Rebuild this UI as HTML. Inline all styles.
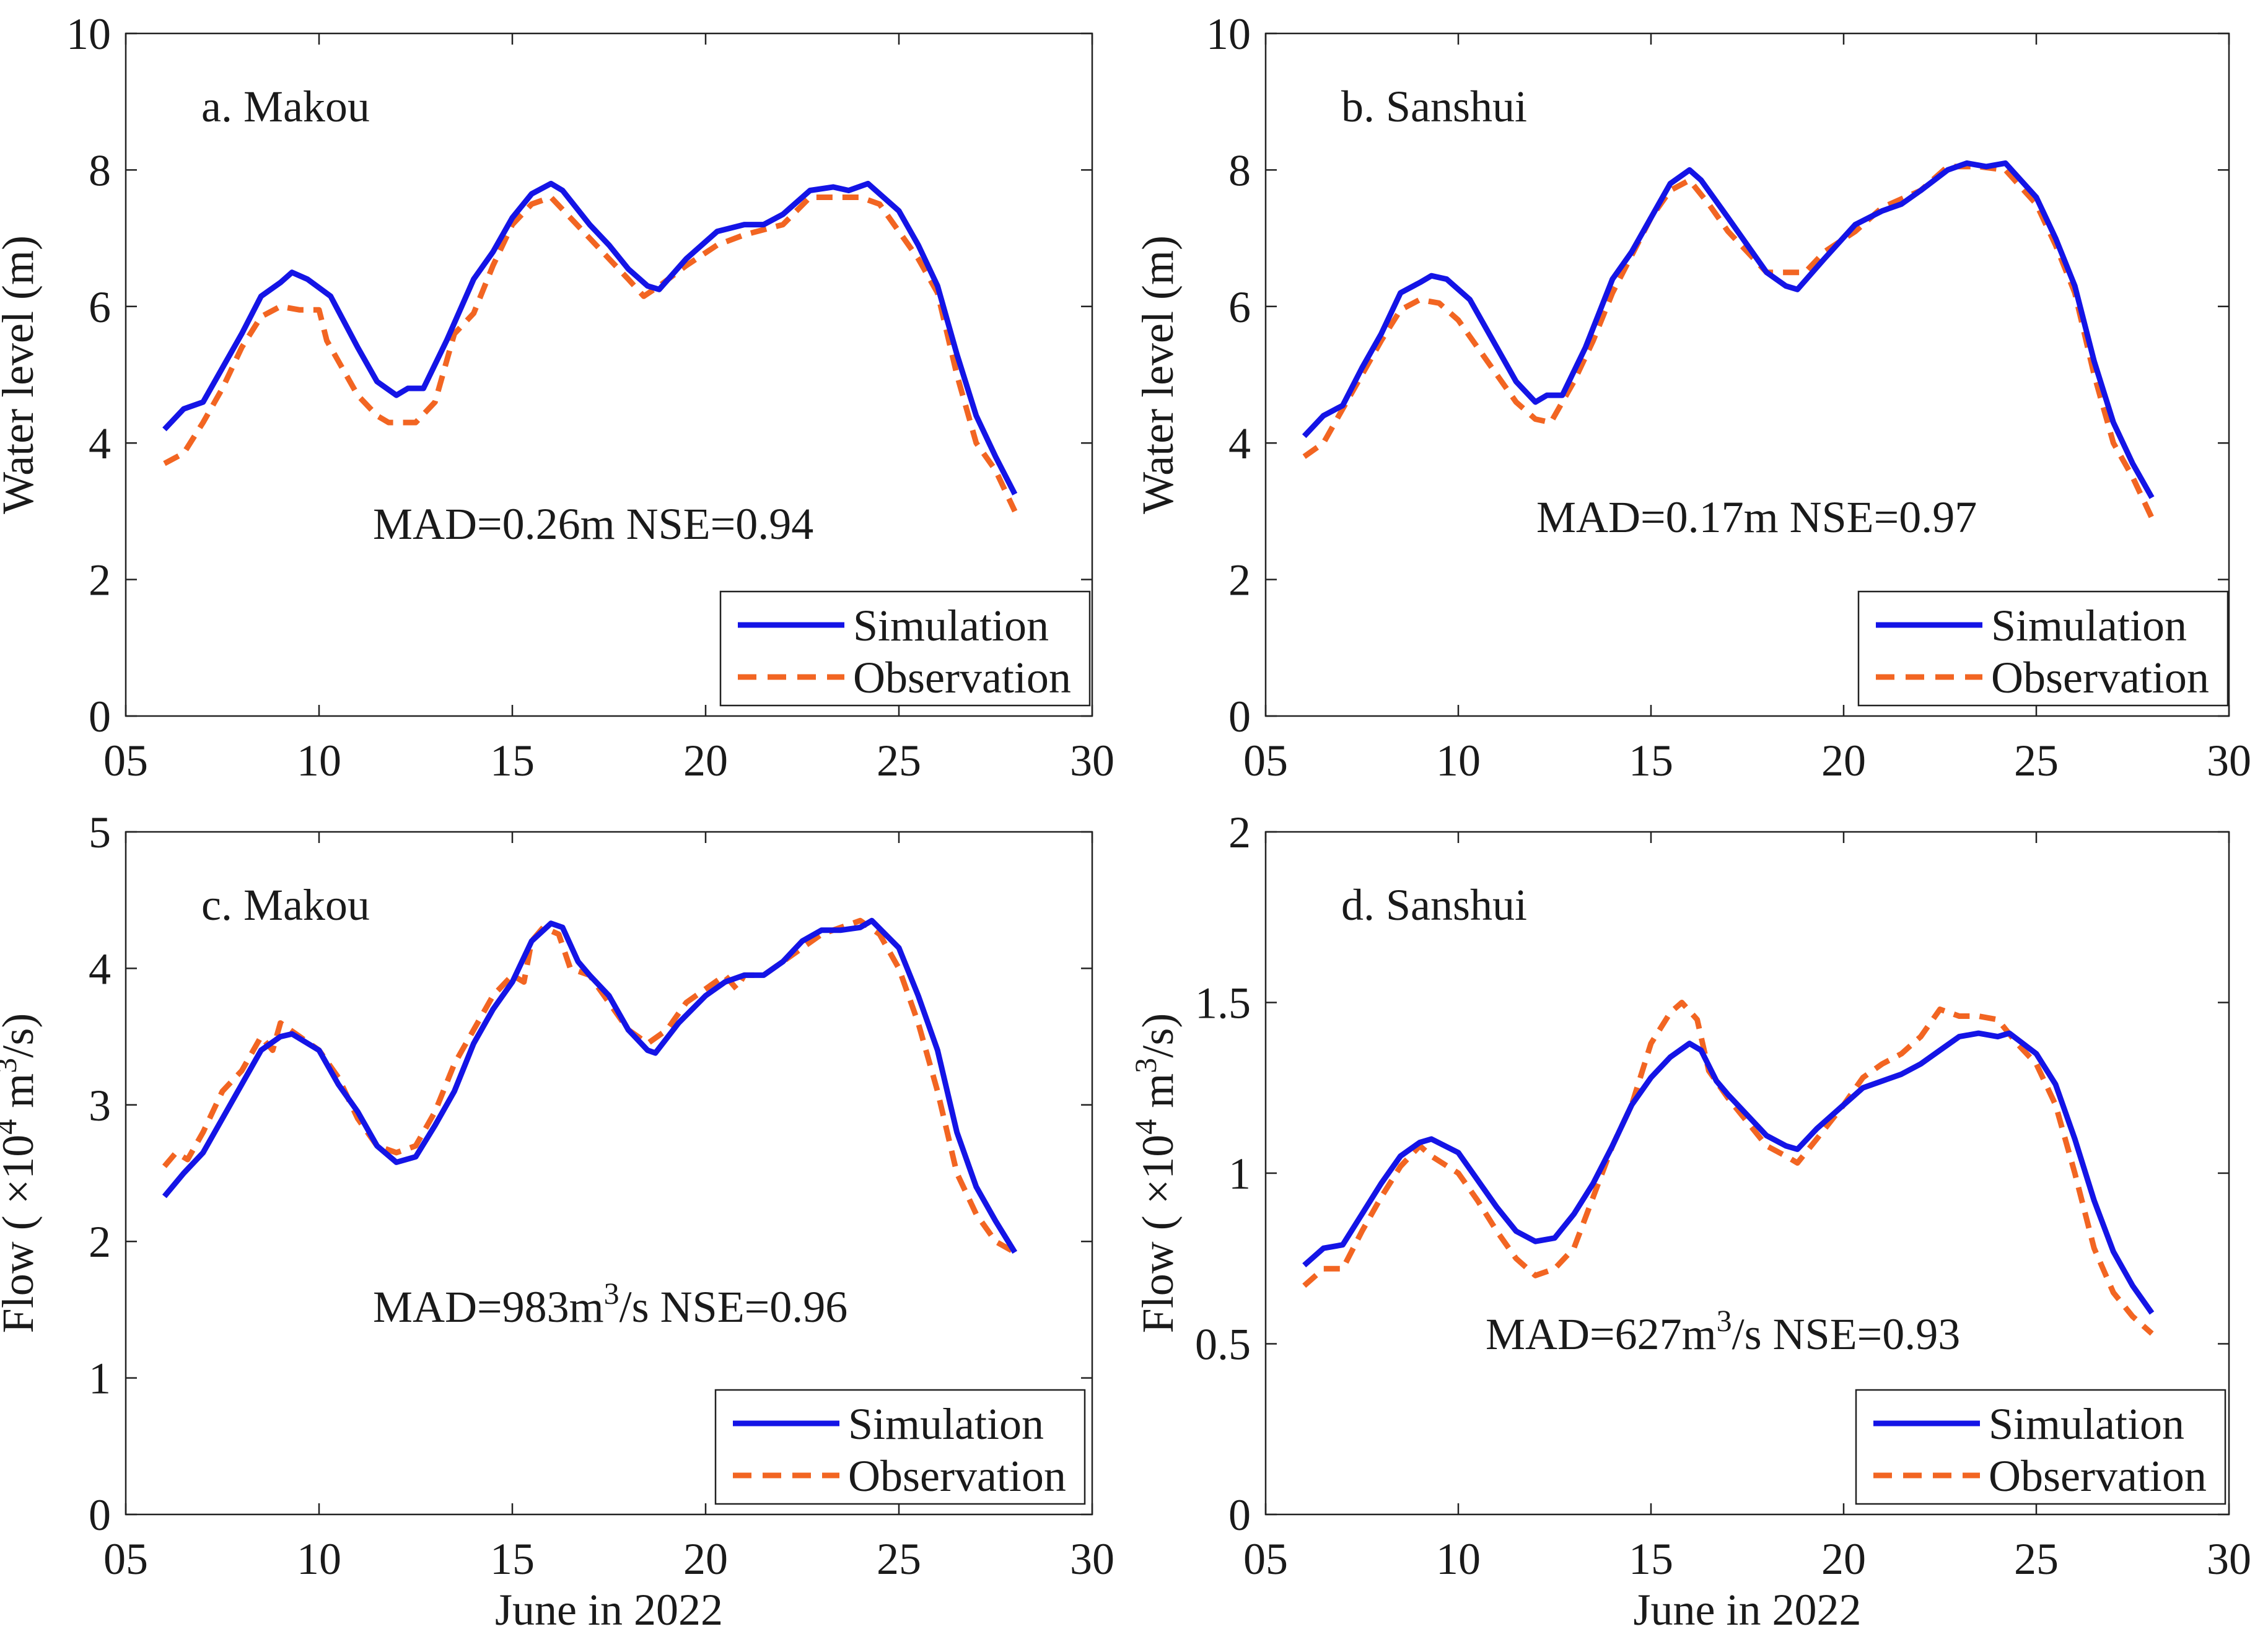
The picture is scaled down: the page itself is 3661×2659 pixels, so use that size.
<!DOCTYPE html>
<html><head><meta charset="utf-8">
<style>
html,body{margin:0;padding:0;background:#fff;}
svg{display:block;font-family:"Liberation Serif",serif;}
</style></head>
<body>
<svg id="fig" width="3661" height="2659" viewBox="0 0 3661 2659" xmlns="http://www.w3.org/2000/svg"></svg>
<script>
// ---- Data ----
const xTickLabels = ["05","10","15","20","25","30"];
const xTickValues = [5,10,15,20,25,30];

const aSimX=[6,6.5,7,7.5,8,8.5,9,9.3,9.7,10.3,11,11.5,12,12.3,12.7,13.3,14,14.5,15,15.5,16,16.3,17,17.5,18,18.5,18.8,19.5,20.3,21,21.5,22,22.7,23.3,23.7,24.2,25,25.5,26,26.5,27,27.5,28];
const aSimY=[4.2,4.5,4.6,5.1,5.6,6.15,6.35,6.5,6.4,6.15,5.4,4.9,4.7,4.8,4.8,5.5,6.4,6.8,7.3,7.65,7.8,7.7,7.2,6.9,6.55,6.3,6.25,6.7,7.1,7.2,7.2,7.35,7.7,7.75,7.7,7.8,7.4,6.9,6.3,5.3,4.4,3.8,3.25];
const aObsX=[6,6.5,7,7.5,8,8.5,9,9.5,10,10.2,11,11.5,11.8,12.5,13,13.5,14,14.5,15,15.5,16,16.5,17,17.5,18,18.4,18.8,19.5,20.3,21,22,22.7,23.5,24,24.5,25.5,26,26.5,27,27.5,28];
const aObsY=[3.7,3.85,4.3,4.8,5.4,5.85,6.0,5.95,5.95,5.5,4.7,4.4,4.3,4.3,4.6,5.6,5.9,6.6,7.2,7.5,7.6,7.3,7.0,6.7,6.4,6.15,6.3,6.6,6.9,7.05,7.2,7.6,7.6,7.6,7.5,6.7,6.2,5.0,4.0,3.6,3.0];

const bSimX=[6,6.5,7,7.5,8,8.5,9,9.3,9.7,10.3,11,11.5,12,12.3,12.7,13.3,14,14.5,15,15.5,16,16.3,17,17.5,18,18.5,18.8,19.5,20.3,21,21.5,22,22.7,23.2,23.7,24.2,25,25.5,26,26.5,27,27.5,28];
const bSimY=[4.1,4.4,4.55,5.1,5.6,6.2,6.35,6.45,6.4,6.1,5.4,4.9,4.6,4.7,4.7,5.4,6.4,6.8,7.3,7.8,8.0,7.85,7.3,6.9,6.5,6.3,6.25,6.7,7.2,7.4,7.5,7.7,8.0,8.1,8.05,8.1,7.6,7.0,6.3,5.2,4.3,3.7,3.2];
const bObsX=[6,6.5,7,7.5,8,8.5,9,9.5,10,11,11.5,12,12.4,13,13.5,14,15,15.5,16,16.5,17,17.5,18,18.5,19,19.5,20.3,21,22,22.7,23.5,24.2,25,25.5,26,26.5,27,27.5,28];
const bObsY=[3.8,4.0,4.5,5.0,5.5,5.95,6.1,6.05,5.8,5.0,4.6,4.35,4.3,4.9,5.5,6.2,7.3,7.7,7.85,7.5,7.1,6.8,6.5,6.5,6.5,6.8,7.1,7.45,7.7,8.05,8.05,8.0,7.5,6.9,6.2,5.0,4.0,3.5,2.9];

const cSimX=[6,6.5,7,7.5,8,8.5,9,9.3,10,10.5,11,11.5,12,12.5,13,13.5,14,14.5,15,15.5,16,16.3,16.7,17,17.5,18,18.5,18.7,19.3,20,20.5,21,21.5,22,22.5,23,23.5,24,24.3,25,25.5,26,26.5,27,27.5,28];
const cSimY=[2.33,2.5,2.65,2.9,3.15,3.4,3.5,3.52,3.4,3.15,2.95,2.7,2.58,2.62,2.85,3.1,3.45,3.7,3.9,4.2,4.33,4.3,4.05,3.95,3.8,3.55,3.4,3.38,3.6,3.8,3.9,3.95,3.95,4.05,4.2,4.28,4.28,4.3,4.35,4.15,3.8,3.4,2.8,2.4,2.15,1.92];
const cObsX=[6,6.3,6.6,7,7.5,8,8.5,8.8,9,9.5,10,10.5,11,11.5,12,12.5,13,13.5,14,14.5,15,15.3,15.5,15.8,16.2,16.5,17,17.5,18,18.5,19,19.5,20,20.5,20.8,21,21.5,22,22.5,23,23.5,24,24.5,25,25.5,26,26.5,27,27.5,28];
const cObsY=[2.55,2.65,2.6,2.8,3.1,3.25,3.5,3.4,3.6,3.5,3.4,3.2,2.9,2.7,2.65,2.7,2.95,3.3,3.55,3.8,3.95,3.9,4.2,4.3,4.25,4.0,3.95,3.75,3.55,3.45,3.55,3.75,3.85,3.95,3.85,3.95,3.95,4.05,4.15,4.25,4.3,4.35,4.25,4.0,3.6,3.1,2.5,2.2,2.0,1.92];

const dSimX=[6,6.5,7,7.5,8,8.5,9,9.3,10,10.5,11,11.5,12,12.5,13,13.5,14,14.5,15,15.5,16,16.3,16.7,17,17.5,18,18.5,18.8,19.3,20,20.5,21,21.5,22,22.5,23,23.5,24,24.3,25,25.5,26,26.5,27,27.5,28];
const dSimY=[0.73,0.78,0.79,0.88,0.97,1.05,1.09,1.1,1.06,0.98,0.9,0.83,0.8,0.81,0.88,0.97,1.08,1.2,1.28,1.34,1.38,1.36,1.27,1.23,1.17,1.11,1.08,1.07,1.13,1.2,1.25,1.27,1.29,1.32,1.36,1.4,1.41,1.4,1.41,1.35,1.26,1.1,0.92,0.77,0.67,0.59];
const dObsX=[6,6.5,7,7.5,8,8.5,9,9.3,10,10.5,11,11.5,12,12.5,13,13.5,14,14.5,15,15.5,15.8,16.2,16.5,17,17.5,18,18.5,18.8,19.3,20,20.5,21,21.5,22,22.5,23,23.5,24,24.5,25,25.5,26,26.5,27,27.5,28];
const dObsY=[0.67,0.72,0.72,0.83,0.93,1.02,1.08,1.05,1.0,0.92,0.83,0.75,0.7,0.72,0.78,0.93,1.08,1.2,1.38,1.47,1.5,1.45,1.3,1.22,1.15,1.08,1.05,1.03,1.1,1.2,1.28,1.32,1.35,1.4,1.48,1.46,1.46,1.45,1.38,1.32,1.2,1.0,0.78,0.65,0.58,0.53];

const yTicksA=[0,2,4,6,8,10];
const yTicksC=[0,1,2,3,4,5];
const yTicksD=[0,0.5,1,1.5,2];

// ---- Drawing ----
const NS="http://www.w3.org/2000/svg";
const svg=document.getElementById('fig');
const FS=72;
function mk(tag,attrs,parent){const e=document.createElementNS(NS,tag);for(const k in attrs)e.setAttribute(k,attrs[k]);(parent||svg).appendChild(e);return e;}

function panel(p){
  const g=mk('g',{});
  
  
  const L=p.L,R=p.R,T=p.T,B=p.B;
  const xs=v=>L+(v-5)/25*(R-L);
  const ys=v=>B-(v-p.ymin)/(p.ymax-p.ymin)*(B-T);
  function line(X,Y,color,dash,nm){
    let d='';X.forEach((x,i)=>{d+=(i?'L':'M')+xs(x).toFixed(1)+','+ys(Y[i]).toFixed(1);});
    const a={d:d,fill:'none',stroke:color,'stroke-width':9,'stroke-linejoin':'round'};
    if(dash)a['stroke-dasharray']=dash;
    const e=mk('path',a,g);
    
    
  }
  line(p.obsX,p.obsY,'#f26522','26,16','observation-line');
  line(p.simX,p.simY,'#1414e6',null,'simulation-line');
  const box=mk('rect',{x:L,y:T,width:R-L,height:B-T,fill:'none',stroke:'#222','stroke-width':2.5},g);
  
  
  xTickValues.forEach((v,i)=>{
    const x=xs(v);
    mk('line',{x1:x,y1:B,x2:x,y2:B-18,stroke:'#222','stroke-width':2.5},g);
    mk('line',{x1:x,y1:T,x2:x,y2:T+18,stroke:'#222','stroke-width':2.5},g);
    const t=mk('text',{x:x,y:B+96,'font-size':FS,'text-anchor':'middle',fill:'#1a1a1a'},g);
    t.textContent=xTickLabels[i];
    
    
  });
  p.yTicks.forEach(v=>{
    const y=ys(v);
    mk('line',{x1:L,y1:y,x2:L+18,y2:y,stroke:'#222','stroke-width':2.5},g);
    mk('line',{x1:R,y1:y,x2:R-18,y2:y,stroke:'#222','stroke-width':2.5},g);
    const t=mk('text',{x:L-24,y:y+25,'font-size':FS,'text-anchor':'end',fill:'#1a1a1a'},g);
    t.textContent=String(v);
    
    
  });
  const yl=mk('text',{x:0,y:0,'font-size':FS,'text-anchor':'middle',fill:'#1a1a1a',transform:`translate(${L-150},${(T+B)/2}) rotate(-90)`},g);
  
  
  if(p.flow){
    yl.innerHTML='Flow ( ×10<tspan dy="-27" font-size="50">4</tspan><tspan dy="27"> m</tspan><tspan dy="-27" font-size="50">3</tspan><tspan dy="27">/s)</tspan>';
  } else yl.textContent='Water level (m)';
  const ti=mk('text',{x:L+122,y:T+142,'font-size':FS,fill:'#1a1a1a'},g);
  ti.textContent=p.title;
  
  
  const st=mk('text',{x:p.sx,y:p.sy,'font-size':FS,fill:'#1a1a1a'},g);
  st.innerHTML=p.stats;
  
  
  const lg=mk('g',{},g);
  
  
  const lx=p.lx, ly=p.ly;
  mk('rect',{x:lx,y:ly,width:596,height:184,fill:'#fff',stroke:'#222','stroke-width':2.5},lg);
  mk('line',{x1:lx+28,y1:ly+54,x2:lx+200,y2:ly+54,stroke:'#1414e6','stroke-width':9},lg);
  mk('line',{x1:lx+28,y1:ly+138,x2:lx+200,y2:ly+138,stroke:'#f26522','stroke-width':9,'stroke-dasharray':'30,18'},lg);
  const s1=mk('text',{x:lx+214,y:ly+79,'font-size':FS,fill:'#1a1a1a'},lg);s1.textContent='Simulation';
  
  
  const s2=mk('text',{x:lx+214,y:ly+163,'font-size':FS,fill:'#1a1a1a'},lg);s2.textContent='Observation';
  
  
  if(p.xlabel){
    const xl=mk('text',{x:(L+R)/2,y:B+178,'font-size':FS,'text-anchor':'middle',fill:'#1a1a1a'},g);
    xl.textContent='June in 2022';
    
    
  }
}

panel({name:'panel-a-makou-level',L:203,R:1763,T:54,B:1156,ymin:0,ymax:10,yTicks:yTicksA,simX:aSimX,simY:aSimY,obsX:aObsX,obsY:aObsY,title:'a. Makou',sx:602,sy:870,stats:'MAD=0.26m NSE=0.94',lx:1163,ly:955});
panel({name:'panel-b-sanshui-level',L:2043,R:3598,T:54,B:1156,ymin:0,ymax:10,yTicks:yTicksA,simX:bSimX,simY:bSimY,obsX:bObsX,obsY:bObsY,title:'b. Sanshui',sx:2480,sy:859,stats:'MAD=0.17m NSE=0.97',lx:3000,ly:955});
panel({name:'panel-c-makou-flow',L:203,R:1763,T:1343,B:2445,ymin:0,ymax:5,yTicks:yTicksC,simX:cSimX,simY:cSimY,obsX:cObsX,obsY:cObsY,title:'c. Makou',sx:602,sy:2134,stats:'MAD=983m<tspan dy="-29" font-size="50">3</tspan><tspan dy="29">/s NSE=0.96</tspan>',lx:1155,ly:2244,flow:true,xlabel:true});
panel({name:'panel-d-sanshui-flow',L:2043,R:3598,T:1343,B:2445,ymin:0,ymax:2,yTicks:yTicksD,simX:dSimX,simY:dSimY,obsX:dObsX,obsY:dObsY,title:'d. Sanshui',sx:2398,sy:2178,stats:'MAD=627m<tspan dy="-29" font-size="50">3</tspan><tspan dy="29">/s NSE=0.93</tspan>',lx:2996,ly:2244,flow:true,xlabel:true});
</script>
</body></html>
